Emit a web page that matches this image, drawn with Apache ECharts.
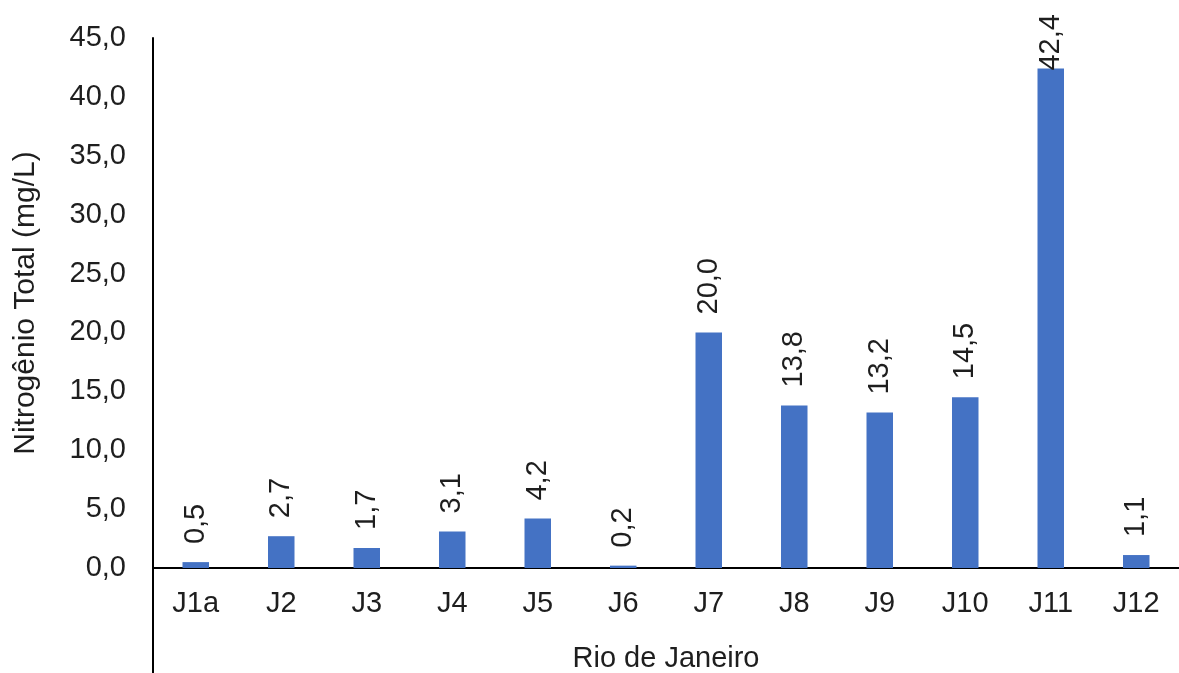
<!DOCTYPE html>
<html>
<head>
<meta charset="utf-8">
<script src="https://cdn.jsdelivr.net/npm/echarts@6/dist/echarts.min.js"></script>
<style>html,body{margin:0;padding:0;background:#fff}#c{width:1179px;height:673px}</style>
</head>
<body>
<div id="c"></div>
<script>
var categories = ['J1a','J2','J3','J4','J5','J6','J7','J8','J9','J10','J11','J12'];
var values = [0.5, 2.7, 1.7, 3.1, 4.2, 0.2, 20.0, 13.8, 13.2, 14.5, 42.4, 1.1];
var yTitle = 'Nitrogênio Total (mg/L)';
var xTitle = 'Rio de Janeiro';

function fmt(v){ return Number(v).toFixed(1).replace('.', ','); }

var yMax = 45;
// labels that would run past the top of the plot are pulled down (as in the original)
var seriesData = values.map(function(v){
  return v > 40 ? {value: v, label: {distance: -2}} : v;
});

var chart = echarts.init(document.getElementById('c'), null, {renderer:'canvas'});
var font = 'Liberation Sans, Arial, sans-serif';
var txt = '#1e1e1e';
chart.setOption({
  animation: false,
  textStyle: {fontFamily: font},
  grid: {left: 153, right: 0, top: 38, bottom: 105, containLabel: false, outerBoundsMode: 'none'},
  xAxis: {
    type: 'category',
    data: categories,
    name: xTitle,
    nameLocation: 'middle',
    nameGap: 76,
    nameTextStyle: {fontSize: 29, color: txt, fontFamily: font},
    axisLine: {lineStyle: {color: '#000', width: 2}},
    axisTick: {show: false},
    axisLabel: {fontSize: 29, color: txt, margin: 21, fontFamily: font}
  },
  yAxis: {
    type: 'value',
    min: 0, max: yMax, interval: 5,
    name: yTitle,
    nameLocation: 'middle',
    nameGap: 112,
    nameTextStyle: {fontSize: 30, color: txt, fontFamily: font, padding: [0, 0, 0, 0]},
    axisLine: {show: true, lineStyle: {color: '#000', width: 2}},
    axisTick: {show: false},
    splitLine: {show: false},
    axisLabel: {fontSize: 29, color: txt, margin: 27, fontFamily: font, formatter: fmt}
  },
  graphic: [{
    type: 'line',
    shape: {x1: 153, y1: 568, x2: 153, y2: 673},
    style: {stroke: '#000', lineWidth: 2}
  }],
  series: [{
    type: 'bar',
    data: seriesData,
    barWidth: '31%',
    itemStyle: {color: '#4472C4'},
    label: {
      show: true,
      position: 'top',
      rotate: 90,
      align: 'left',
      verticalAlign: 'middle',
      distance: 18,
      fontSize: 29,
      color: txt,
      fontFamily: font,
      formatter: function(p){ return fmt(p.value); }
    }
  }]
});
</script>
</body>
</html>
